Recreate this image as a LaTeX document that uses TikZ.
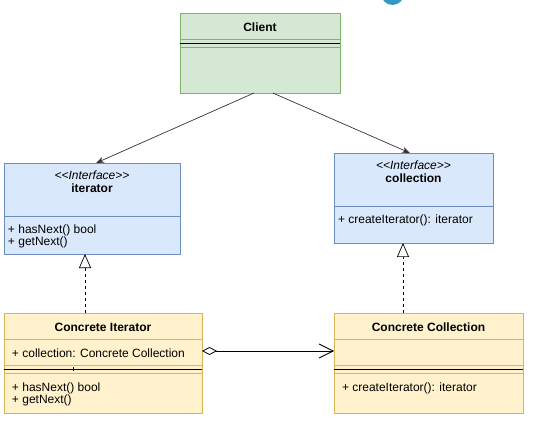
\documentclass[tikz,border=0pt]{standalone}
\usepackage{fontspec}
\setmainfont{Liberation Sans}
\usetikzlibrary{arrows.meta,calc}
\definecolor{greenfill}{HTML}{D5E8D4}
\definecolor{greenline}{HTML}{82B366}
\definecolor{bluefill}{HTML}{DAE8FC}
\definecolor{blueline}{HTML}{6C8EBF}
\definecolor{yellowfill}{HTML}{FFF2CC}
\definecolor{yellowline}{HTML}{D6B656}
\definecolor{logoblue}{HTML}{3598C0}

\begin{document}
\begin{tikzpicture}[x=1pt,y=-1pt,
  every node/.style={inner sep=0pt, outer sep=0pt, font=\fontsize{12}{12}\selectfont},
  umlbox/.style={draw, line width=0.9pt, anchor=north west, rectangle},
  clientbox/.style={umlbox, fill=greenfill, draw=greenline},
  ifacebox/.style={umlbox, fill=bluefill, draw=blueline},
  concbox/.style={umlbox, fill=yellowfill, draw=yellowline},
  classname/.style={font=\fontsize{12}{12}\selectfont\bfseries},
  stereo/.style={font=\fontsize{12}{12}\selectfont\itshape},
  member/.style={anchor=west, align=left},
  sepline/.style={black, line width=0.9pt},
  assoc/.style={draw=black!80, line width=0.7pt, -{Stealth[length=8pt,width=6pt]}},
  realize/.style={black, line width=0.7pt, dash pattern=on 3pt off 3pt,
    -{Triangle[open, length=14pt, width=12pt, fill=white]}},
  aggr/.style={black, line width=0.8pt,
    {Diamond[open, length=15pt, width=8pt, fill=white]}-{Straight Barb[length=14pt, width=14pt]}}
]
\useasboundingbox (0,0) rectangle (542,428);

% partial round badge at the top edge
\begin{scope}
  \clip (0,0) rectangle (542,428);
  \fill[logoblue] (392.5,-6.5) circle[radius=11.5];
\end{scope}

% class boxes
\node[clientbox, minimum width=160pt, minimum height=80pt] (client) at (180,13) {};
\node[ifacebox, minimum width=176pt, minimum height=91pt] (iter) at (4,163) {};
\node[ifacebox, minimum width=159pt, minimum height=90pt] (coll) at (334,153) {};
\node[concbox, minimum width=198pt, minimum height=100pt] (citer) at (4,313) {};
\node[concbox, minimum width=189pt, minimum height=100pt] (ccoll) at (334,313) {};

% compartments: Client
\draw[greenline, line width=0.9pt] (180,39) -- (340,39) (180,47) -- (340,47);
\draw[sepline] (180,43) -- (340,43);
% compartments: interfaces
\draw[blueline, line width=0.9pt] (4,216) -- (180,216);
\draw[blueline, line width=0.9pt] (334,206) -- (493,206);
% compartments: concrete classes
\draw[yellowline, line width=0.9pt] (4,339) -- (202,339) (4,365) -- (202,365) (4,373) -- (202,373);
\draw[sepline] (4,369) -- (202,369);
\draw[sepline] (73,367) -- (73,371);
\draw[yellowline, line width=0.9pt] (334,339) -- (523,339) (334,365) -- (523,365) (334,373) -- (523,373);
\draw[sepline] (334,369) -- (523,369);

% texts
\node[classname] (clientname) at (260,27) {Client};

\node[stereo] (iterstereo) at (92,175) {<{}<Interface>{}>};
\node[classname] (itername) at (92,188.5) {iterator};
\node[member] (itermembers) at (8,236) {+ hasNext() bool\\+ getNext()};

\node[stereo] (collstereo) at (413.5,165) {<{}<Interface>{}>};
\node[classname] (collname) at (413.5,178.5) {collection};
\node[member] (collmembers) at (338,220) {+ createIterator(): iterator};

\node[classname] (citername) at (103,327) {Concrete Iterator};
\node[member] (citerattr) at (12,353) {+ collection: Concrete Collection};
\node[member] (citermembers) at (12,394) {+ hasNext() bool\\+ getNext()};

\node[classname] (ccollname) at (428.5,327) {Concrete Collection};
\node[member] (ccollmembers) at (342,388) {+ createIterator(): iterator};

% associations from the client
\draw[assoc] ($(client.south west)!0.4625!(client.south east)$) -- ($(iter.north west)!0.523!(iter.north east)$);
\draw[assoc] ($(client.south west)!0.58!(client.south east)$) -- ($(coll.north west)!0.478!(coll.north east)$);

% realizations
\draw[realize] (citer.north -| 85,0) -- (iter.south -| 85,0);
\draw[realize] (ccoll.north -| 403,0) -- (coll.south -| 403,0);

% aggregation
\draw[aggr] (citer.east |- 0,351) -- (ccoll.west |- 0,351);
\end{tikzpicture}
\end{document}
